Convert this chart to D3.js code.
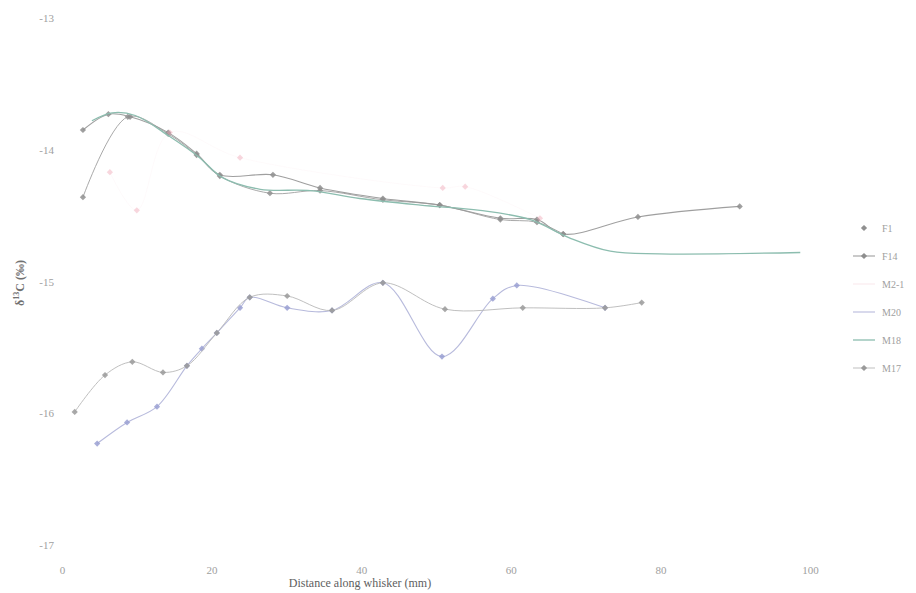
<!DOCTYPE html>
<html>
<head>
<meta charset="utf-8">
<script src="https://cdn.jsdelivr.net/npm/d3@7/dist/d3.min.js"></script>
<style>
  html, body { margin: 0; padding: 0; background: #fff; }
  svg { display: block; }
  .tick text { font-family: "Liberation Serif", "DejaVu Serif", serif; fill: #a0a0a0; }
</style>
</head>
<body>
<svg id="chart" width="916" height="593"></svg>
<script>
// δ13C profiles along whiskers (distance in mm, δ13C in ‰)
const xTickValues = [0, 20, 40, 60, 80, 100];
const yTickValues = [-13, -14, -15, -16, -17];

const seriesNames = ["F1", "F14", "M2-1", "M20", "M18", "M17"];

const f1X  = [2.8, 8.8, 14.2, 18.0, 21.1, 27.8, 34.5, 42.9, 50.5, 58.6, 63.5, 67.0];
const f1Y  = [-14.36, -13.75, -13.88, -14.04, -14.20, -14.33, -14.31, -14.38, -14.42, -14.53, -14.55, -14.64];

const f14X = [2.8, 6.2, 9.1, 14.2, 18.0, 21.1, 28.2, 34.5, 42.9, 50.5, 58.6, 63.5, 67.0, 77.0, 90.6];
const f14Y = [-13.85, -13.73, -13.75, -13.87, -14.03, -14.19, -14.19, -14.29, -14.37, -14.42, -14.52, -14.53, -14.64, -14.51, -14.43];

const m21X = [6.4, 10.0, 14.4, 23.8, 50.9, 53.9, 63.9];
const m21Y = [-14.17, -14.46, -13.87, -14.06, -14.29, -14.28, -14.52];

const m20X = [4.7, 8.7, 12.7, 16.7, 18.7, 20.7, 23.8, 25.1, 30.1, 36.1, 42.9, 50.8, 57.6, 60.8, 72.6];
const m20Y = [-16.23, -16.07, -15.95, -15.64, -15.51, -15.39, -15.20, -15.12, -15.20, -15.22, -15.01, -15.57, -15.13, -15.03, -15.20];

const m18X = [4.0, 6.7, 9.8, 14.4, 18.4, 21.4, 26.5, 33.2, 39.8, 47.9, 55.9, 62.6, 67.9, 73.3, 79.9, 98.7];
const m18Y = [-13.78, -13.72, -13.74, -13.90, -14.06, -14.21, -14.30, -14.31, -14.37, -14.42, -14.46, -14.53, -14.67, -14.77, -14.79, -14.78];

const m17X = [1.7, 5.75, 9.4, 13.5, 16.7, 20.7, 25.1, 30.1, 36.1, 42.9, 51.2, 61.6, 72.6, 77.5];
const m17Y = [-15.99, -15.71, -15.61, -15.69, -15.64, -15.39, -15.12, -15.11, -15.22, -15.01, -15.21, -15.20, -15.20, -15.16];

const zip = (xs, ys) => xs.map((v, i) => ({ x: v, y: ys[i] }));

const series = [
  { name: seriesNames[0], data: zip(f1X, f1Y),   color: "#a0a0a0", marker: "#909090", width: 1.0, lineOpacity: 0.9,  markerOpacity: 0.85, markers: true,  legend: "marker" },
  { name: seriesNames[1], data: zip(f14X, f14Y), color: "#9a9a9a", marker: "#8e8e8e", width: 1.1, lineOpacity: 0.95, markerOpacity: 0.85, markers: true,  legend: "both" },
  { name: seriesNames[2], data: zip(m21X, m21Y), color: "#f2c2cc", marker: "#f0a6b6", width: 0.8, lineOpacity: 0.1,  markerOpacity: 0.45, markers: true,  legend: "line" },
  { name: seriesNames[3], data: zip(m20X, m20Y), color: "#afb2d8", marker: "#9aa0d2", width: 1.1, lineOpacity: 0.9,  markerOpacity: 0.85, markers: true,  legend: "line" },
  { name: seriesNames[4], data: zip(m18X, m18Y), color: "#8cbdaf", marker: null,      width: 1.3, lineOpacity: 1,    markerOpacity: 0,    markers: false, legend: "line" },
  { name: seriesNames[5], data: zip(m17X, m17Y), color: "#b8b8b8", marker: "#9a9a9a", width: 1.0, lineOpacity: 0.9,  markerOpacity: 0.85, markers: true,  legend: "both" }
];

const svg = d3.select("#chart");
svg.append("rect").attr("width", 916).attr("height", 593).attr("fill", "#fff");

const x = d3.scaleLinear().domain([0, 100]).range([62, 810]);
const y = d3.scaleLinear().domain([-17, -13]).range([545, 18]);

// axes: labels only, no spines or tick marks
const gx = svg.append("g").attr("transform", "translate(0,562)")
  .call(d3.axisBottom(x).tickValues(xTickValues).tickSize(0).tickPadding(4).tickFormat(d3.format("d")));
gx.select(".domain").remove();
gx.selectAll("text").attr("font-size", 11);

const gy = svg.append("g").attr("transform", "translate(56,0)")
  .call(d3.axisLeft(y).tickValues(yTickValues).tickSize(0).tickPadding(2).tickFormat(d => d3.format("d")(d).replace("−", "-")));
gy.select(".domain").remove();
gy.selectAll("text").attr("font-size", 11);

// axis titles
svg.append("text")
  .attr("x", 360).attr("y", 587)
  .attr("text-anchor", "middle")
  .attr("font-family", "Liberation Serif, serif")
  .attr("font-size", 12)
  .attr("fill", "#606060")
  .text("Distance along whisker (mm)");

const yTitle = svg.append("text")
  .attr("transform", "translate(24,283) rotate(-90)")
  .attr("text-anchor", "middle")
  .attr("font-family", "Liberation Serif, serif")
  .attr("font-size", 12)
  .attr("font-weight", "bold")
  .attr("fill", "#707070");
yTitle.append("tspan").text("δ");
yTitle.append("tspan").attr("font-size", 8).attr("dy", -5).text("13");
yTitle.append("tspan").attr("dy", 5).text("C (‰)");

const line = d3.line()
  .x(d => x(d.x))
  .y(d => y(d.y))
  .curve(d3.curveCatmullRom.alpha(0.5));

const marks = svg.append("g");
series.forEach(s => {
  const g = marks.append("g");
  g.append("path")
    .datum(s.data)
    .attr("d", line)
    .attr("fill", "none")
    .attr("stroke", s.color)
    .attr("stroke-opacity", s.lineOpacity)
    .attr("stroke-width", s.width);
  if (s.markers) {
    g.selectAll("rect")
      .data(s.data)
      .join("rect")
      .attr("x", d => x(d.x) - 2.2)
      .attr("y", d => y(d.y) - 2.2)
      .attr("width", 4.4)
      .attr("height", 4.4)
      .attr("fill", s.marker)
      .attr("opacity", s.markerOpacity)
      .attr("transform", d => `rotate(45,${x(d.x)},${y(d.y)})`);
  }
});

// legend
const legend = svg.append("g").attr("transform", "translate(853,228)");
series.forEach((s, i) => {
  const row = legend.append("g").attr("transform", `translate(0,${i * 28})`);
  if (s.legend !== "marker") {
    row.append("line").attr("x1", 0).attr("x2", 22).attr("y1", 0).attr("y2", 0)
      .attr("stroke", s.color).attr("stroke-width", s.width)
      .attr("stroke-opacity", Math.max(s.lineOpacity, 0.5));
  }
  if (s.legend !== "line" && s.marker) {
    row.append("rect").attr("x", 8.8).attr("y", -2.2).attr("width", 4.4).attr("height", 4.4)
      .attr("fill", s.marker).attr("transform", "rotate(45,11,0)");
  }
  row.append("text")
    .attr("x", 29).attr("y", 4)
    .attr("font-family", "Liberation Serif, serif")
    .attr("font-size", 10)
    .attr("fill", "#a0a0a0")
    .text(s.name);
});
</script>
</body>
</html>
